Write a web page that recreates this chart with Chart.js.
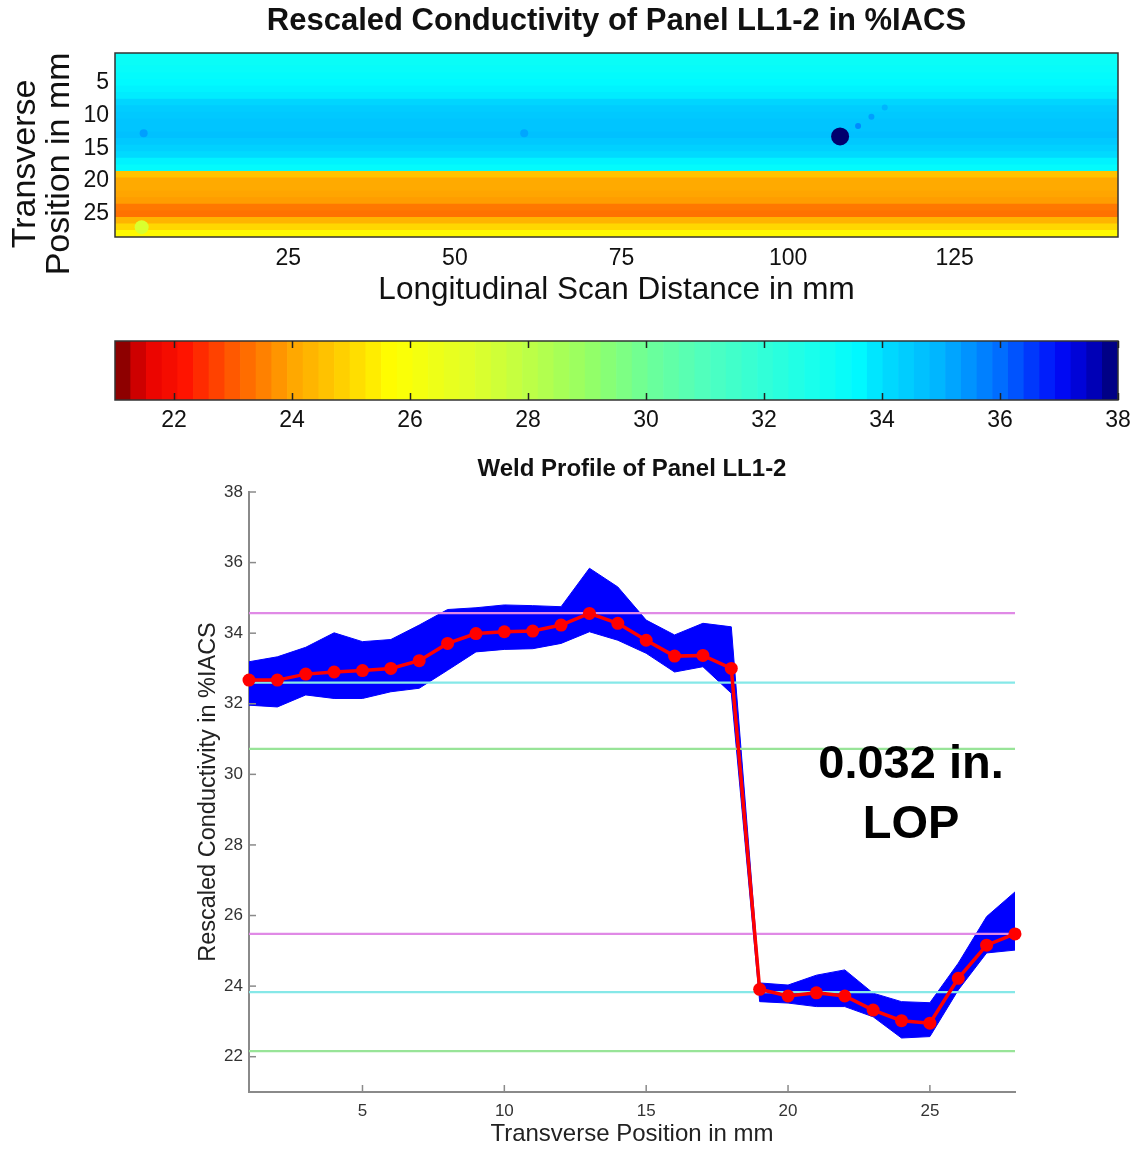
<!DOCTYPE html>
<html><head><meta charset="utf-8">
<script src="https://cdn.jsdelivr.net/npm/chart.js@4/dist/chart.umd.min.js"></script>
<style>
html,body{margin:0;padding:0;background:#fff;}
body{width:1133px;height:1149px;position:relative;overflow:hidden;}
.box{position:absolute;left:0;}
#note{position:absolute;left:770px;top:732px;width:282px;text-align:center;font:bold 47px "Liberation Sans",Arial,sans-serif;line-height:60px;color:#000;}
</style></head><body>
<div class="box" style="top:0"><canvas id="heat" width="1133" height="320"></canvas></div>
<div class="box" style="top:330px"><canvas id="cbar" width="1133" height="110"></canvas></div>
<div class="box" style="top:440px"><canvas id="prof" width="1133" height="709"></canvas></div>
<div id="note">0.032 in.<br>LOP</div>
<script>
// ---------------- DATA ----------------
const transversePos = [1,2,3,4,5,6,7,8,9,10,11,12,13,14,15,16,17,18,19,20,21,22,23,24,25,26,27,28];
// mean weld profile (red)
const meanProfile = [32.67,32.67,32.84,32.90,32.94,33.00,33.22,33.71,33.99,34.04,34.06,34.23,34.56,34.28,33.80,33.35,33.37,33.00,
                     23.91,23.72,23.81,23.72,23.32,23.02,22.95,24.22,25.16,25.48];
// envelope of all individual scan traces (blue band)
const traceMax = [33.19,33.33,33.60,34.01,33.76,33.82,34.23,34.67,34.72,34.80,34.78,34.75,35.84,35.31,34.37,33.95,34.28,34.18,
                  24.09,24.03,24.31,24.46,23.80,23.56,23.53,24.65,25.97,26.67];
const traceMin = [31.96,31.91,32.25,32.15,32.15,32.34,32.44,32.95,33.47,33.54,33.56,33.71,34.04,33.80,33.43,32.90,33.05,32.30,
                  23.56,23.52,23.42,23.42,23.13,22.53,22.57,23.89,24.94,25.02];
// horizontal reference levels
const refLevels = [34.57, 32.60, 30.72, 25.48, 23.83, 22.16];
const refKinds  = ['upper','mean','lower','upper','mean','lower'];
// heat map: conductivity of each transverse row (averaged along scan)
const heatRowValues = [33.3,33.3,33.4,33.5,33.6,33.7,33.8,34.2,34.4,34.5,34.6,34.6,34.7,34.5,34.3,34.1,33.7,33.5,
                       24.6,24.1,24.1,24.0,23.9,23.4,23.3,24.3,25.0,25.6];
// local anomalies in the scan (longitudinal mm, transverse mm, %IACS)
const spotX = [107.8, 110.5, 112.5, 114.5, 3.3, 60.4, 3.0];
const spotY = [13.2, 11.6, 10.2, 8.8, 12.7, 12.7, 27.0];
const spotV = [38.0, 35.6, 35.3, 35.0, 35.3, 35.2, 27.2];
const scanMin = -1, scanMax = 149.5;
const heatXTicks = [25, 50, 75, 100, 125];
const heatYTicks = [5, 10, 15, 20, 25];
const cbarMin = 21, cbarMax = 38;
const cbarTicks = [22, 24, 26, 28, 30, 32, 34, 36, 38];
const profXTicks = [5, 10, 15, 20, 25];
const profYTicks = [22, 24, 26, 28, 30, 32, 34, 36, 38];

// ---------------- COLORMAP ----------------
const cmapStops = [
  [21.0,[110,0,0]],[21.5,[230,0,0]],[22.2,[255,20,0]],[23.0,[255,90,0]],[24.0,[255,165,0]],
  [25.0,[255,215,0]],[25.7,[255,255,0]],[27.0,[225,255,40]],[28.0,[190,255,70]],[29.0,[150,255,100]],
  [30.0,[110,255,150]],[31.0,[80,255,190]],[32.0,[50,255,215]],[33.0,[20,255,240]],[33.6,[0,250,255]],
  [34.0,[0,222,255]],[35.0,[0,180,255]],[36.0,[0,110,255]],[37.0,[0,10,250]],[37.5,[0,0,200]],[38.0,[0,0,110]]
];
function cmap(v){
  if (v <= cmapStops[0][0]) return 'rgb(' + cmapStops[0][1].join(',') + ')';
  for (let i = 1; i < cmapStops.length; i++){
    const [v1,c1] = cmapStops[i], [v0,c0] = cmapStops[i-1];
    if (v <= v1){
      const t = (v - v0)/(v1 - v0);
      return 'rgb(' + c0.map((c,k)=>Math.round(c + (c1[k]-c)*t)).join(',') + ')';
    }
  }
  return 'rgb(' + cmapStops[cmapStops.length-1][1].join(',') + ')';
}
const nBands = 64;
const bandEdges = [];
for (let i = 0; i <= nBands; i++) bandEdges.push(cbarMin + (cbarMax - cbarMin) * i / nBands);

const FAM = '"Liberation Sans", Arial, Helvetica, sans-serif';
const refColors = {upper:'#e08ae6', mean:'#86e8e8', lower:'#98e498'};

// ---------------- helper plugins ----------------
const frame = {
  id:'frame',
  afterDraw(chart){
    const a = chart.chartArea, ctx = chart.ctx;
    ctx.save(); ctx.strokeStyle = '#333'; ctx.lineWidth = 1.5;
    ctx.strokeRect(a.left, a.top, a.right - a.left, a.bottom - a.top);
    ctx.restore();
  }
};
const cbarTickMarks = {
  id:'cbarTickMarks',
  afterDraw(chart){
    const a = chart.chartArea, ctx = chart.ctx, xs = chart.scales.x;
    ctx.save(); ctx.strokeStyle = '#222'; ctx.lineWidth = 1.5;
    xs.ticks.forEach((t,i)=>{
      const px = Math.round(xs.getPixelForTick(i)) + 0.5;
      ctx.beginPath(); ctx.moveTo(px, a.top); ctx.lineTo(px, a.top + 7);
      ctx.moveTo(px, a.bottom); ctx.lineTo(px, a.bottom - 7); ctx.stroke();
    });
    ctx.restore();
  }
};
const innerTicks = {
  id:'innerTicks',
  afterDraw(chart){
    const a = chart.chartArea, ctx = chart.ctx, xs = chart.scales.x, ys = chart.scales.y;
    ctx.save(); ctx.strokeStyle = '#8a8a8a'; ctx.lineWidth = 1.5;
    xs.ticks.forEach((t,i)=>{
      const px = xs.getPixelForTick(i);
      ctx.beginPath(); ctx.moveTo(px, a.bottom); ctx.lineTo(px, a.bottom - 7); ctx.stroke();
    });
    ys.ticks.forEach((t,i)=>{
      const py = ys.getPixelForTick(i);
      ctx.beginPath(); ctx.moveTo(a.left, py); ctx.lineTo(a.left + 7, py); ctx.stroke();
    });
    ctx.restore();
  }
};

// ---------------- HEAT MAP ----------------
new Chart(document.getElementById('heat'), {
  type:'bar',
  data:{datasets:[
    {type:'bubble', data: spotX.map((x,i)=>({x:x, y:spotY[i]})),
     backgroundColor: spotV.map(cmap), borderWidth:0,
     radius:[9,3,3,3,4,4,7], order:1},
    {type:'bar', indexAxis:'y', data: transversePos.map(r=>({x:[scanMin, scanMax], y:r})),
     backgroundColor: heatRowValues.map(cmap), borderWidth:0, barPercentage:1, categoryPercentage:1, order:2}
  ]},
  options:{
    responsive:false, animation:false, events:[],
    layout:{padding:{left:0,right:15,top:0,bottom:0}, autoPadding:false},
    plugins:{legend:{display:false}, tooltip:{enabled:false},
      title:{display:true, fullSize:false, text:'Rescaled Conductivity of Panel LL1-2 in %IACS', color:'#111',
             font:{family:FAM, size:31, weight:'bold', lineHeight:1.2}, padding:{top:3,bottom:12.8}}},
    scales:{
      x:{type:'linear', min:scanMin, max:scanMax, position:'bottom', offset:false, beginAtZero:false,
         afterBuildTicks:s=>{s.ticks = heatXTicks.map(v=>({value:v}));},
         grid:{display:false, drawTicks:false, offset:false}, border:{display:false},
         ticks:{color:'#111', font:{family:FAM, size:23}, padding:8, maxRotation:0, autoSkip:false},
         title:{display:true, text:'Longitudinal Scan Distance in mm', color:'#111',
                font:{family:FAM, size:31.5, lineHeight:1.2}, padding:{top:0,bottom:11}},
         afterFit:s=>{s.height = 83;}},
      y:{type:'linear', reverse:true, min:0.5, max:28.5, offset:false, beginAtZero:false,
         afterBuildTicks:s=>{s.ticks = heatYTicks.map(v=>({value:v}));},
         grid:{display:false, drawTicks:false, offset:false}, border:{display:false},
         ticks:{color:'#111', font:{family:FAM, size:23}, padding:6, autoSkip:false},
         title:{display:true, text:['Transverse    ','Position in mm    '], color:'#111',
                font:{family:FAM, size:34, lineHeight:1.0}, padding:{top:9,bottom:0}},
         afterFit:s=>{s.width = 115;}}
    }
  },
  plugins:[frame]
});

// ---------------- COLOR BAR ----------------
new Chart(document.getElementById('cbar'), {
  type:'bar',
  data:{datasets:[
    {indexAxis:'y', data: bandEdges.slice(0,-1).map((v,i)=>({x:[v, bandEdges[i+1]], y:0})),
     backgroundColor: bandEdges.slice(0,-1).map((v,i)=>cmap((v + bandEdges[i+1])/2)),
     borderWidth:0, barPercentage:1, categoryPercentage:1}
  ]},
  options:{
    responsive:false, animation:false, events:[],
    layout:{padding:{left:115,right:15,top:11,bottom:0}, autoPadding:false},
    plugins:{legend:{display:false}, tooltip:{enabled:false}},
    scales:{
      x:{type:'linear', min:cbarMin, max:cbarMax, offset:false, beginAtZero:false,
         afterBuildTicks:s=>{s.ticks = cbarTicks.map(v=>({value:v}));},
         grid:{display:false, drawTicks:false, offset:false}, border:{display:false},
         ticks:{color:'#111', font:{family:FAM, size:23}, padding:7, maxRotation:0, autoSkip:false},
         afterFit:s=>{s.height = 40; s.paddingLeft = 0; s.paddingRight = 0;}},
      y:{type:'linear', min:-0.5, max:0.5, display:false, offset:false, beginAtZero:false,
         grid:{offset:false},
         afterBuildTicks:s=>{s.ticks = [];}}
    }
  },
  plugins:[frame, cbarTickMarks]
});

// ---------------- WELD PROFILE ----------------
const profDatasets = [
  {label:'mean', data: transversePos.map((x,i)=>({x:x, y:meanProfile[i]})),
   borderColor:'#ff0000', backgroundColor:'#ff0000', borderWidth:3.5,
   pointRadius:6.5, pointBorderWidth:0, pointBackgroundColor:'#ff0000', clip:false, order:0}
];
refLevels.forEach((lv,i)=>{
  profDatasets.push({label:'ref'+i, data:[{x:1,y:lv},{x:28,y:lv}],
    borderColor: refColors[refKinds[i]], borderWidth:2.2, pointRadius:0, order:1});
});
profDatasets.push({label:'traceMax', data: transversePos.map((x,i)=>({x:x, y:traceMax[i]})),
  borderColor:'#0000ff', borderWidth:1, pointRadius:0, fill:'+1', backgroundColor:'#0000ff', order:2});
profDatasets.push({label:'traceMin', data: transversePos.map((x,i)=>({x:x, y:traceMin[i]})),
  borderColor:'#0000ff', borderWidth:1, pointRadius:0, fill:false, order:3});

new Chart(document.getElementById('prof'), {
  type:'line',
  data:{datasets: profDatasets},
  options:{
    responsive:false, animation:false, events:[],
    layout:{padding:{left:0,right:118,top:0,bottom:0}, autoPadding:false},
    elements:{line:{tension:0}},
    plugins:{legend:{display:false}, tooltip:{enabled:false},
      title:{display:true, fullSize:false, text:'Weld Profile of Panel LL1-2', color:'#111',
             font:{family:FAM, size:24, weight:'bold', lineHeight:1.2}, padding:{top:14.6,bottom:8.6}}},
    scales:{
      x:{type:'linear', min:1, max:28,
         afterBuildTicks:s=>{s.ticks = profXTicks.map(v=>({value:v}));},
         grid:{display:false, drawTicks:false}, border:{display:true, color:'#8a8a8a', width:2},
         ticks:{color:'#333', font:{family:FAM, size:17}, padding:9, maxRotation:0, autoSkip:false},
         title:{display:true, text:'Transverse Position in mm', color:'#222',
                font:{family:FAM, size:24, lineHeight:1.2}, padding:{top:0,bottom:0}},
         afterFit:s=>{s.height = 57;}},
      y:{type:'linear', min:21, max:38,
         afterBuildTicks:s=>{s.ticks = profYTicks.map(v=>({value:v}));},
         grid:{display:false, drawTicks:false}, border:{display:true, color:'#8a8a8a', width:2},
         ticks:{color:'#333', font:{family:FAM, size:17}, padding:6, autoSkip:false},
         title:{display:true, text:'Rescaled Conductivity in %IACS', color:'#222',
                font:{family:FAM, size:23.5, lineHeight:1.2}, padding:{top:194,bottom:0}},
         afterFit:s=>{s.width = 249;}}
    }
  },
  plugins:[innerTicks]
});
</script>
</body></html>
